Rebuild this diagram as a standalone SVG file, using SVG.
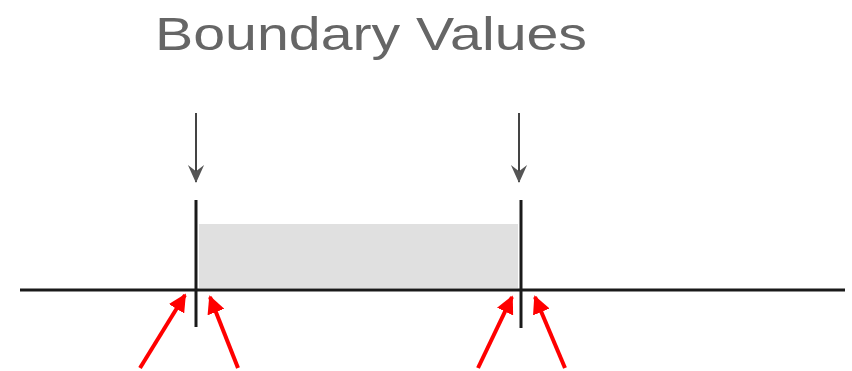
<svg xmlns="http://www.w3.org/2000/svg" width="852" height="371" viewBox="0 0 852 371">
<style>
.title{font-family:"Liberation Sans",Arial,sans-serif;font-size:46px;fill:#666666}
.bar{stroke:#1a1a1a;stroke-width:3;fill:none}
.down{stroke:#444;stroke-width:2;fill:none}
.red{stroke:#ff0000;stroke-width:4;fill:none}
</style>
<defs>
<marker id="gh" viewBox="0 0 10 10" refX="9.5" refY="5" markerWidth="20" markerHeight="18" markerUnits="userSpaceOnUse" orient="auto">
<path d="M0,0.5 L10,5 L0,9.5 L3.5,5 Z" fill="#555"/>
</marker>
<marker id="rh" viewBox="0 0 10 10" refX="9" refY="5" markerWidth="4.5" markerHeight="4.5" orient="auto">
<path d="M0,0 L10,5 L0,10 Z" fill="#ff0000"/>
</marker>
</defs>
<rect x="0" y="0" width="852" height="371" fill="#ffffff"/>
<g id="title"><text class="title" x="155" y="50" textLength="432" lengthAdjust="spacingAndGlyphs">Boundary Values</text></g>
<g id="range"><rect x="199" y="224" width="319" height="64" fill="#e0e0e0"/></g>
<g id="axis"><line class="bar" x1="20" y1="290" x2="845" y2="290"/></g>
<g id="lower-boundary"><line class="bar" x1="196" y1="200" x2="196" y2="327"/></g>
<g id="upper-boundary"><line class="bar" x1="521" y1="200" x2="521" y2="328"/></g>
<g id="connectors">
<line class="down" x1="196" y1="113" x2="196" y2="182" marker-end="url(#gh)"/>
<line class="down" x1="519" y1="113" x2="519" y2="182" marker-end="url(#gh)"/>
<line class="red" x1="140" y1="368" x2="185" y2="295" marker-end="url(#rh)"/>
<line class="red" x1="238" y1="368" x2="210" y2="297" marker-end="url(#rh)"/>
<line class="red" x1="478" y1="368" x2="512" y2="297" marker-end="url(#rh)"/>
<line class="red" x1="565" y1="368" x2="535" y2="297" marker-end="url(#rh)"/>
</g>
</svg>
